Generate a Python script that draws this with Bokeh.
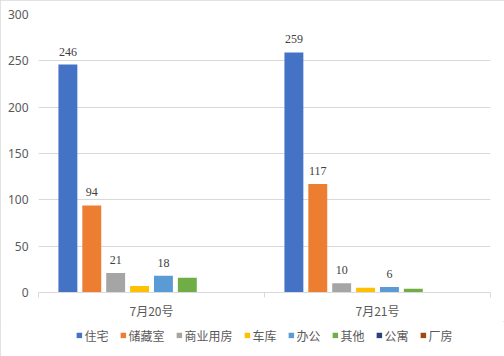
from bokeh.plotting import figure
from bokeh.layouts import column
from bokeh.models import (ColumnDataSource, Range1d, FixedTicker, Legend, LegendItem, LabelSet)
from bokeh.transform import dodge
from bokeh.embed import file_html
from bokeh.resources import INLINE

categories = ["7月20号", "7月21号"]
series = ["住宅", "储藏室", "商业用房", "车库", "办公", "其他", "公寓", "厂房"]
v_zhuzhai = [246, 259]
v_chucangshi = [94, 117]
v_shangye = [21, 10]
v_cheku = [7, 5]
v_bangong = [18, 6]
v_qita = [16, 4]
v_gongyu = [0, 0]
v_changfang = [0, 0]
values = [v_zhuzhai, v_chucangshi, v_shangye, v_cheku, v_bangong, v_qita, v_gongyu, v_changfang]
labeled = ["住宅", "储藏室", "商业用房", "办公"]
y_ticks = [0, 50, 100, 150, 200, 250, 300]

colors = ["#4472C4", "#ED7D31", "#A5A5A5", "#FFC000", "#5B9BD5", "#70AD47", "#264478", "#9E480E"]
TXT = "#595959"
GRID = "#d9d9d9"
CJK = "Noto Sans CJK SC"
NUM = "Noto Sans"

n = len(categories)
centers = [i + 0.5 for i in range(n)]

p = figure(width=504, height=321, x_range=Range1d(0, n),
           y_range=Range1d(0, 300), output_backend="svg", toolbar_location=None,
           min_border_left=38, min_border_right=14, min_border_top=14, min_border_bottom=29)
p.outline_line_color = None
p.background_fill_color = "white"
p.border_fill_color = "white"

xa = p.xaxis[0]
xa.ticker = FixedTicker(ticks=centers, minor_ticks=list(range(n + 1)))
xa.major_label_overrides = {c: lab for c, lab in zip(centers, categories)}
xa.axis_line_color = GRID
xa.major_tick_line_color = None
xa.minor_tick_line_color = GRID
xa.minor_tick_out = 5
xa.minor_tick_in = 0
xa.major_tick_out = 0
xa.major_tick_in = 0
xa.major_label_text_color = TXT
xa.major_label_text_font = CJK
xa.major_label_text_font_size = "12px"
xa.major_label_standoff = 4

ya = p.yaxis[0]
ya.ticker = FixedTicker(ticks=y_ticks)
ya.axis_line_color = None
ya.major_tick_line_color = None
ya.minor_tick_line_color = None
ya.major_tick_out = 0
ya.major_label_text_color = TXT
ya.major_label_text_font = NUM
ya.major_label_text_font_size = "12px"
ya.major_label_standoff = 10

p.xgrid.grid_line_color = None
p.ygrid.grid_line_color = GRID
p.ygrid.ticker = FixedTicker(ticks=y_ticks)

pitch = 0.1057
bw = 0.0837
for i, (name, vals) in enumerate(zip(series, values)):
    src = ColumnDataSource(dict(x=centers, val=vals, txt=[str(v) for v in vals]))
    off = (i - (len(series) - 1) / 2) * pitch
    p.vbar(x=dodge("x", off), top="val", width=bw, source=src,
           color=colors[i], line_color=None)
    if name in labeled:
        p.add_layout(LabelSet(x=dodge("x", off), y="val", text="txt",
                              source=src, text_align="center", text_baseline="middle",
                              y_offset=13, text_font=NUM, text_font_size="12px",
                              text_color="#404040"))

# legend strip (legend-only renderers sit outside the visible range)
lf = figure(width=504, height=35, x_range=Range1d(0, 1), y_range=Range1d(0, 1),
            output_backend="svg", toolbar_location=None, min_border=0,
            min_border_bottom=7)
lf.axis.visible = False
lf.grid.grid_line_color = None
lf.outline_line_color = None
lf.background_fill_color = "white"
lf.border_fill_color = "white"
items = []
for i, name in enumerate(series):
    r = lf.rect(x=[-5], y=[-5], width=1, height=1, color=colors[i], line_color=None)
    items.append(LegendItem(label=name, renderers=[r]))
legend = Legend(items=items, orientation="horizontal", location="center",
                glyph_width=7, glyph_height=7, label_standoff=2, spacing=11,
                label_text_font=CJK, label_text_font_size="12px", label_text_color=TXT,
                border_line_color=None, background_fill_alpha=0, padding=0, margin=0)
lf.add_layout(legend, "center")

layout = column(p, lf, spacing=0)
layout.styles = {"outline": "1px solid #d9d9d9", "outline-offset": "-1px"}

open("out.html", "w").write(file_html(layout, INLINE))
